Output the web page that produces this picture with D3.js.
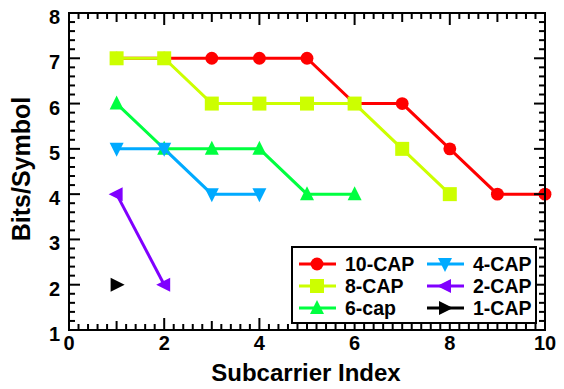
<!DOCTYPE html>
<html>
<head>
<meta charset="utf-8">
<script src="https://cdn.jsdelivr.net/npm/d3@7"></script>
<style>
  html, body { margin: 0; padding: 0; background: #fff; }
  svg { display: block; font-family: "Liberation Sans", Arial, sans-serif; font-weight: bold; }
</style>
</head>
<body>
<svg id="chart" width="564" height="389"></svg>
<script>
// Bits loaded per subcarrier for each CAP configuration
const subcarriers = [1, 2, 3, 4, 5, 6, 7, 8, 9, 10];
const cap10 = [7, 7, 7, 7, 7, 6, 6, 5, 4, 4];
const cap8 = [7, 7, 6, 6, 6, 6, 5, 4];
const cap6 = [6, 5, 5, 5, 4, 4];
const cap4 = [5, 5, 4, 4];
const cap2 = [4, 2];
const cap1 = [2];

const seriesNames = ["10-CAP", "8-CAP", "6-cap", "4-CAP", "2-CAP", "1-CAP"];
const seriesColors = ["#ff0000", "#ccff00", "#00ff40", "#00aaff", "#8000ff", "#000000"];
const seriesShapes = ["circle", "square", "triUp", "triDown", "triLeft", "triRight"];
const seriesValues = [cap10, cap8, cap6, cap4, cap2, cap1];

const xTickLabels = [0, 2, 4, 6, 8, 10];
const yTickLabels = [1, 2, 3, 4, 5, 6, 7, 8];

const svg = d3.select("#chart");
const plotLeft = 69, plotRight = 545, plotTop = 13, plotBottom = 330;

const x = d3.scaleLinear().domain([0, 10]).range([plotLeft, plotRight]);
const y = d3.scaleLinear().domain([1, 8]).range([plotBottom, plotTop]);

// Marker path generators, centred at the origin
function markerPath(shape) {
  const s = 7;
  switch (shape) {
    case "circle": return d3.symbol(d3.symbolCircle, 130)();
    case "square": return `M${-s},${-s}H${s}V${s}H${-s}Z`;
    case "triUp": return `M0,${-s - 1}L${s},${s - 1}L${-s},${s - 1}Z`;
    case "triDown": return `M0,${s + 1}L${s},${-s + 1}L${-s},${-s + 1}Z`;
    case "triLeft": return `M${-s - 1},0L${s - 1},${-s}L${s - 1},${s}Z`;
    case "triRight": return `M${s + 1},0L${-s + 1},${-s}L${-s + 1},${s}Z`;
  }
}

const line = d3.line().x(d => x(d[0])).y(d => y(d[1]));

// Draw series in listed order, later series on top
seriesNames.forEach((name, i) => {
  const pts = seriesValues[i].map((v, k) => [subcarriers[k], v]);
  const g = svg.append("g");
  g.append("path")
    .attr("d", line(pts))
    .attr("fill", "none")
    .attr("stroke", seriesColors[i])
    .attr("stroke-width", 3);
  g.selectAll("path.m").data(pts).enter().append("path")
    .attr("class", "m")
    .attr("d", markerPath(seriesShapes[i]))
    .attr("transform", d => `translate(${x(d[0])},${y(d[1])})`)
    .attr("fill", seriesColors[i]);
});

// Axes with inward ticks on all four sides
const minorX = d3.range(0, 10.001, 0.2).map(v => +v.toFixed(1));
const minorY = d3.range(1, 8.001, 0.2).map(v => +v.toFixed(1));
function xTickLen(v) {
  if (Math.abs(v % 2) < 1e-6) return 12;
  if (Math.abs(v % 1) < 1e-6) return 9;
  return 6;
}
function yTickLen(v) {
  if (Math.abs(v % 1) < 1e-6) return 11;
  return 6;
}
const axes = svg.append("g").attr("stroke", "#000").attr("stroke-width", 2);
axes.selectAll("line.xb").data(minorX).enter().append("line")
  .attr("x1", d => x(d)).attr("x2", d => x(d))
  .attr("y1", plotBottom).attr("y2", d => plotBottom - xTickLen(d));
axes.selectAll("line.xt").data(minorX).enter().append("line")
  .attr("x1", d => x(d)).attr("x2", d => x(d))
  .attr("y1", plotTop).attr("y2", d => plotTop + xTickLen(d));
axes.selectAll("line.yl").data(minorY).enter().append("line")
  .attr("y1", d => y(d)).attr("y2", d => y(d))
  .attr("x1", plotLeft).attr("x2", d => plotLeft + yTickLen(d));
axes.selectAll("line.yr").data(minorY).enter().append("line")
  .attr("y1", d => y(d)).attr("y2", d => y(d))
  .attr("x1", plotRight).attr("x2", d => plotRight - yTickLen(d));
axes.append("rect")
  .attr("x", plotLeft).attr("y", plotTop)
  .attr("width", plotRight - plotLeft).attr("height", plotBottom - plotTop)
  .attr("fill", "none");

// Tick labels
svg.append("g").selectAll("text").data(xTickLabels).enter().append("text")
  .attr("x", d => x(d)).attr("y", 350)
  .attr("text-anchor", "middle")
  .attr("font-size", 20)
  .text(d => d);
svg.append("g").selectAll("text").data(yTickLabels).enter().append("text")
  .attr("x", 60).attr("y", d => y(d) + 11)
  .attr("text-anchor", "end")
  .attr("font-size", 20)
  .text(d => d);

// Axis titles
svg.append("text")
  .attr("x", 306).attr("y", 381)
  .attr("text-anchor", "middle")
  .attr("font-size", 24)
  .text("Subcarrier Index");
svg.append("text")
  .attr("transform", `translate(30,169) rotate(-90)`)
  .attr("text-anchor", "middle")
  .attr("font-size", 25)
  .text("Bits/Symbol");

// Legend
const lg = svg.append("g");
lg.append("rect")
  .attr("x", 292).attr("y", 247).attr("width", 244).attr("height", 76)
  .attr("fill", "#fff").attr("stroke", "#000").attr("stroke-width", 2);
seriesNames.forEach((name, i) => {
  const col = Math.floor(i / 3), row = i % 3;
  const lx = col === 0 ? 299 : 427;
  const ly = 264 + row * 22;
  lg.append("line")
    .attr("x1", lx).attr("x2", lx + 37)
    .attr("y1", ly).attr("y2", ly)
    .attr("stroke", seriesColors[i]).attr("stroke-width", 3);
  lg.append("path")
    .attr("d", markerPath(seriesShapes[i]))
    .attr("transform", `translate(${lx + 18},${ly})`)
    .attr("fill", seriesColors[i]);
  lg.append("text")
    .attr("x", col === 0 ? 345 : 473).attr("y", ly + 7)
    .attr("font-size", 19.5)
    .text(name);
});
</script>
</body>
</html>
